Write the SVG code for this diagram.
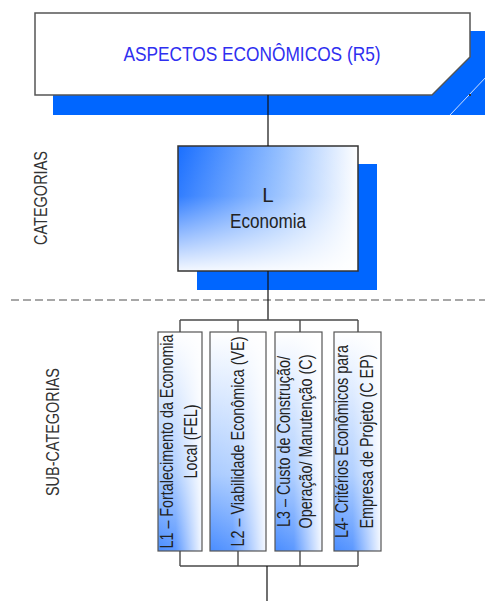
<svg xmlns="http://www.w3.org/2000/svg" width="485" height="601" viewBox="0 0 485 601">
  <style>
    .txt { font-family: "Liberation Sans Narrow", "Arial Narrow", "Liberation Sans", Arial, sans-serif; }
    .shadow { fill: #0066ff; }
    .conn { fill: none; stroke: #111; stroke-width: 1.2; }
    .branch { fill: none; stroke: #4a4a4a; stroke-width: 1.4; }
    .sub { stroke: #555; stroke-width: 1.2; }
    .subtxt { font-size: 17.5px; fill: #222; text-anchor: middle; }
    .side { font-size: 17.5px; fill: #333; text-anchor: middle; }
  </style>
  <defs>
    <linearGradient id="gBase" x1="0" y1="0" x2="1" y2="0">
      <stop offset="0" stop-color="#1a6fff"/>
      <stop offset="0.55" stop-color="#8fbcff"/>
      <stop offset="1" stop-color="#ffffff"/>
    </linearGradient>
    <linearGradient id="gBaseSub" x1="0" y1="0" x2="1" y2="0">
      <stop offset="0" stop-color="#4a8dff"/>
      <stop offset="0.35" stop-color="#a9cbff"/>
      <stop offset="1" stop-color="#ffffff"/>
    </linearGradient>
    <linearGradient id="gFade" x1="0" y1="0" x2="0" y2="1">
      <stop offset="0" stop-color="#ffffff" stop-opacity="0"/>
      <stop offset="0.4" stop-color="#ffffff" stop-opacity="0.1"/>
      <stop offset="1" stop-color="#ffffff" stop-opacity="0.95"/>
    </linearGradient>
  </defs>

  <rect width="485" height="601" fill="#ffffff"/>

  <!-- side labels -->
  <text class="txt side" transform="translate(47,198) rotate(-90)" textLength="94" lengthAdjust="spacingAndGlyphs">CATEGORIAS</text>
  <text class="txt side" transform="translate(59,432) rotate(-90)" textLength="128" lengthAdjust="spacingAndGlyphs">SUB-CATEGORIAS</text>

  <!-- separator -->
  <line x1="11" y1="300" x2="485" y2="300" stroke="#8a8a8a" stroke-width="1.5" stroke-dasharray="8 4"/>

  <!-- root node -->
  <g id="r5">
    <rect class="shadow" x="53" y="31" width="432" height="84"/>
    <line x1="450" y1="115" x2="487" y2="76" stroke="#cfe0ff" stroke-width="1"/>
    <polygon points="35,13 470,13 470,57 432,95 35,95" fill="#ffffff" stroke="#555" stroke-width="1.5"/>
    <rect x="469" y="94" width="2" height="2" fill="#333"/>
    <text class="txt" x="252" y="61" font-size="21" fill="#2f2ff0" text-anchor="middle" textLength="257" lengthAdjust="spacingAndGlyphs">ASPECTOS ECONÔMICOS (R5)</text>
  </g>

  <!-- category node -->
  <g id="L">
    <rect class="shadow" x="197" y="164" width="180" height="126"/>
    <rect x="178" y="146" width="180" height="125" fill="url(#gBase)"/>
    <rect x="178" y="146" width="180" height="125" fill="url(#gFade)" stroke="#333" stroke-width="1.5"/>
    <text class="txt" x="268" y="202" font-size="20.5" fill="#222" text-anchor="middle">L</text>
    <text class="txt" x="268" y="228" font-size="20.5" fill="#222" text-anchor="middle" textLength="76" lengthAdjust="spacingAndGlyphs">Economia</text>
  </g>

  <!-- sub-category nodes -->
  <g id="L1" transform="translate(158,551) rotate(-90)">
    <rect x="0" y="0" width="219" height="44" fill="url(#gBaseSub)"/>
    <rect class="sub" x="0" y="0" width="219" height="44" fill="url(#gFade)"/>
    <text class="txt subtxt" x="109.5" y="15" textLength="214" lengthAdjust="spacingAndGlyphs">L1 – Fortalecimento da Economia</text>
    <text class="txt subtxt" x="109.5" y="39" textLength="74" lengthAdjust="spacingAndGlyphs">Local (FEL)</text>
  </g>
  <g id="L2" transform="translate(210,551) rotate(-90)">
    <rect x="0" y="0" width="219" height="56" fill="url(#gBaseSub)"/>
    <rect class="sub" x="0" y="0" width="219" height="56" fill="url(#gFade)"/>
    <text class="txt subtxt" x="109.5" y="34" textLength="210" lengthAdjust="spacingAndGlyphs">L2 – Viabilidade Econômica (VE)</text>
  </g>
  <g id="L3" transform="translate(275,551) rotate(-90)">
    <rect x="0" y="0" width="219" height="47" fill="url(#gBaseSub)"/>
    <rect class="sub" x="0" y="0" width="219" height="47" fill="url(#gFade)"/>
    <text class="txt subtxt" x="109.5" y="15" textLength="171" lengthAdjust="spacingAndGlyphs">L3 – Custo de Construção/</text>
    <text class="txt subtxt" x="109.5" y="37" textLength="174" lengthAdjust="spacingAndGlyphs">Operação/ Manutenção (C)</text>
  </g>
  <g id="L4" transform="translate(334,551) rotate(-90)">
    <rect x="0" y="0" width="219" height="47" fill="url(#gBaseSub)"/>
    <rect class="sub" x="0" y="0" width="219" height="47" fill="url(#gFade)"/>
    <text class="txt subtxt" x="109.5" y="14" textLength="193" lengthAdjust="spacingAndGlyphs">L4- Critérios Econômicos para</text>
    <text class="txt subtxt" x="109.5" y="39" textLength="174" lengthAdjust="spacingAndGlyphs">Empresa de Projeto (C EP)</text>
  </g>

  <!-- connectors -->
  <g id="connectors">
    <path class="conn" d="M268 95 V146 M268 271 V320"/>
    <path class="branch" d="M180 320 H358 M180 320 V332 M238 320 V332 M300 320 V332 M358 320 V332"/>
    <path class="branch" d="M180 551 V566 M238 551 V566 M300 551 V566 M358 551 V566 M180 566 H358"/>
    <path class="conn" d="M267 566 V601"/>
  </g>
</svg>
